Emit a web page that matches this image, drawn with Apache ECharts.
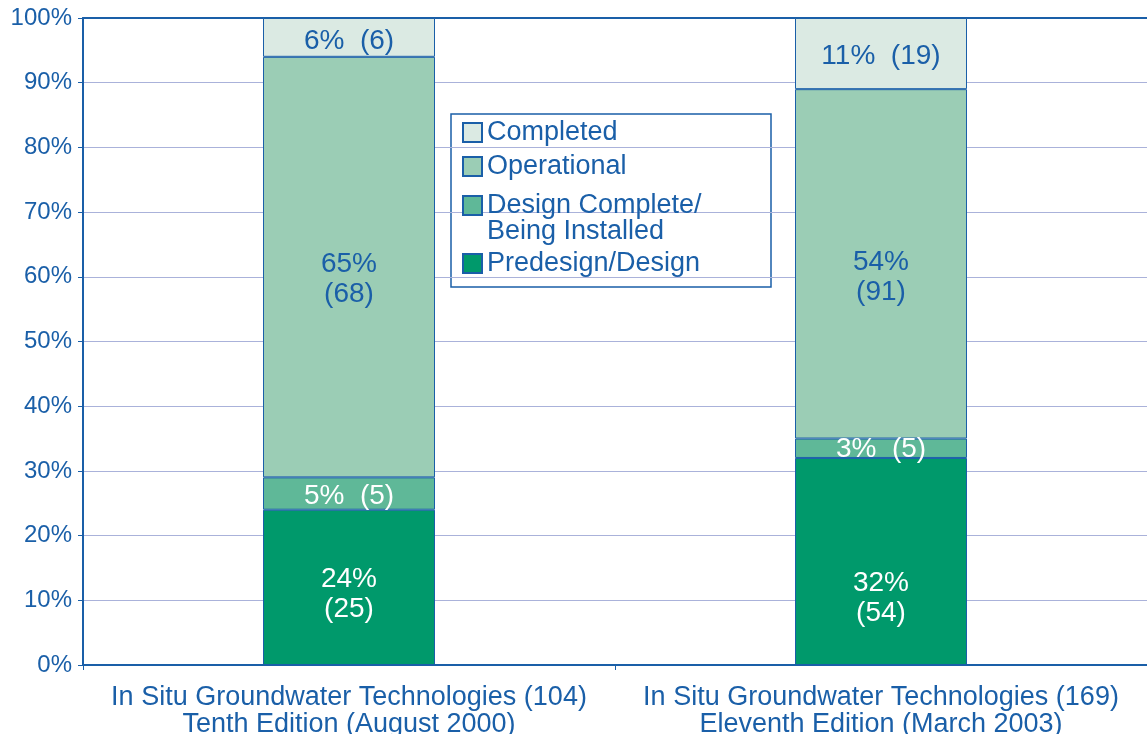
<!DOCTYPE html>
<html>
<head>
<meta charset="utf-8">
<script src="https://cdn.jsdelivr.net/npm/echarts@6/dist/echarts.min.js"></script>
<style>
html,body{margin:0;padding:0;background:#fff;}
#chart{width:1147px;height:734px;}
</style>
</head>
<body>
<div id="chart"></div>
<script>
// ---- data ----
const categories = [
  'In Situ Groundwater Technologies (104)\nTenth Edition (August 2000)',
  'In Situ Groundwater Technologies (169)\nEleventh Edition (March 2003)'
];
const seriesNames = ['Predesign/Design', 'Design Complete/\nBeing Installed', 'Operational', 'Completed'];
const predesignPct = [24, 32];
const predesignCount = [25, 54];
const designCompletePct = [5, 3];
const designCompleteCount = [5, 5];
const operationalPct = [65, 54];
const operationalCount = [68, 91];
const completedPct = [6, 11];
const completedCount = [6, 19];
const yTicks = [0, 10, 20, 30, 40, 50, 60, 70, 80, 90, 100];

// ---- style ----
const BLUE = '#1a5fa8';
const FONT = '"Liberation Sans", Arial, Helvetica, sans-serif';
const colors = ['#00996b', '#5fb898', '#9bcdb5', '#dbeae3'];
const labelColors = ['#ffffff', '#ffffff', BLUE, BLUE];
const twoLine = [true, false, true, false];
const labelOffsets = [[7, 37], [3, 1], [12, 13], [4, 3]];

const pctArrays = [predesignPct, designCompletePct, operationalPct, completedPct];
const countArrays = [predesignCount, designCompleteCount, operationalCount, completedCount];

const series = seriesNames.map((name, s) => ({
  name: name,
  type: 'bar',
  stack: 'total',
  barWidth: 172,
  itemStyle: { color: colors[s], borderColor: BLUE, borderWidth: 1 },
  label: {
    show: true,
    position: 'inside',
    color: labelColors[s],
    fontFamily: FONT,
    fontSize: 28,
    lineHeight: 30,
    formatter: p => twoLine[s]
      ? p.value + '%\n(' + countArrays[s][p.dataIndex] + ')'
      : p.value + '%  (' + countArrays[s][p.dataIndex] + ')'
  },
  data: pctArrays[s].map((v, i) => ({ value: v, label: { offset: [0, labelOffsets[s][i]] } }))
}));

const legendBase = {
  orient: 'vertical',
  left: 462,
  itemWidth: 19,
  itemHeight: 19,
  itemGap: 0,
  padding: 0,
  icon: 'rect',
  textStyle: { color: BLUE, fontSize: 27, fontFamily: FONT, lineHeight: 26 }
};

const option = {
  backgroundColor: '#ffffff',
  animation: false,
  grid: { left: 83, right: 0, top: 18, bottom: 69, outerBoundsMode: 'none', containLabel: false },
  legend: [
    Object.assign({}, legendBase, { data: [seriesNames[3]], top: 119 }),
    Object.assign({}, legendBase, { data: [seriesNames[2]], top: 153 }),
    Object.assign({}, legendBase, {
      data: [seriesNames[1]], top: 166,
      formatter: n => '\n' + n
    }),
    Object.assign({}, legendBase, { data: [seriesNames[0]], top: 250 })
  ],
  graphic: [{
    type: 'rect',
    z: -1,
    zlevel: 0,
    shape: { x: 451, y: 114, width: 320, height: 173 },
    style: { fill: '#ffffff', stroke: BLUE, lineWidth: 1.5 }
  }],
  xAxis: [{
    type: 'category',
    data: categories,
    axisLine: { lineStyle: { color: BLUE, width: 2 } },
    axisTick: { show: true, length: 5, lineStyle: { color: BLUE } },
    axisLabel: { interval: 0, hideOverlap: false, color: BLUE, fontSize: 27, fontFamily: FONT, lineHeight: 27, margin: 19 }
  }, {
    type: 'category',
    position: 'top',
    data: categories,
    axisLine: { show: true, lineStyle: { color: BLUE, width: 2 } },
    axisTick: { show: false },
    axisLabel: { show: false }
  }],
  yAxis: {
    type: 'value',
    min: yTicks[0],
    max: yTicks[yTicks.length - 1],
    interval: 10,
    axisLine: { show: true, lineStyle: { color: BLUE, width: 2 } },
    axisTick: { show: true, length: 5, lineStyle: { color: BLUE } },
    axisLabel: { color: BLUE, fontSize: 24, fontFamily: FONT, margin: 11, formatter: '{value}%' },
    splitLine: { lineStyle: { color: '#aab2da', width: 1 } }
  },
  series: series
};

const chart = echarts.init(document.getElementById('chart'), null, { renderer: 'canvas' });
chart.setOption(option);
</script>
</body>
</html>
